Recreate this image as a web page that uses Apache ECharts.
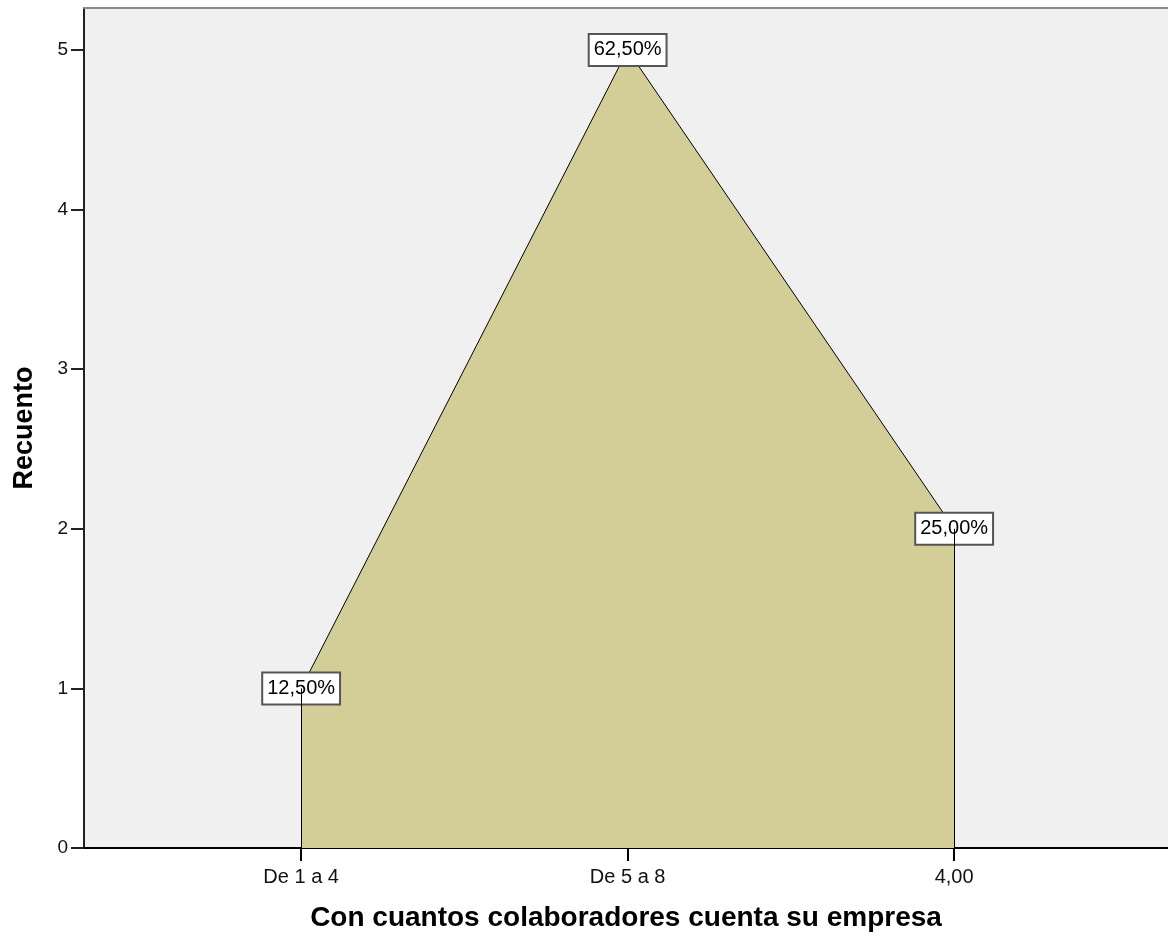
<!DOCTYPE html>
<html>
<head>
<meta charset="utf-8">
<script src="https://cdn.jsdelivr.net/npm/echarts@6/dist/echarts.min.js"></script>
<style>
  html, body { margin: 0; padding: 0; background: #ffffff; }
  #chart { width: 1168px; height: 938px; }
</style>
</head>
<body>
<div id="chart"></div>
<script>
// Categories of company size and the count of respondents in each
const categories = ['De 1 a 4', 'De 5 a 8', '4,00'];
const counts = [1, 5, 2];
const yTicks = [0, 1, 2, 3, 4, 5];

const total = counts.reduce((a, b) => a + b, 0);
const fmtPct = v => (v / total * 100).toFixed(2).replace('.', ',') + '%';
const idx = categories.map((_, i) => i);

const FONT = '"Liberation Sans", Arial, sans-serif';

const chart = echarts.init(document.getElementById('chart'), null, { renderer: 'canvas' });

chart.setOption({
  animation: false,
  backgroundColor: '#ffffff',
  grid: {
    left: 84, right: 0, top: 8, bottom: 90,
    show: true, backgroundColor: '#f0f0f0', borderWidth: 0
  },
  xAxis: [{
    type: 'value',
    min: -0.665, max: 2.655,
    splitLine: { show: false },
    axisLine: { show: true, onZero: false, lineStyle: { color: '#000', width: 2 } },
    axisTick: { show: true, customValues: idx, length: 13, lineStyle: { color: '#000', width: 2 } },
    axisLabel: {
      customValues: idx, margin: 19,
      formatter: v => categories[Math.round(v)],
      fontFamily: FONT, fontSize: 20, color: '#111'
    },
    name: 'Con cuantos colaboradores cuenta su empresa',
    nameLocation: 'middle', nameGap: 56,
    nameTextStyle: { fontFamily: FONT, fontSize: 28, fontWeight: 'bold', color: '#000' }
  }, {
    type: 'value', position: 'top',
    min: -0.665, max: 2.655,
    splitLine: { show: false },
    axisLine: { show: true, onZero: false, lineStyle: { color: '#8a8a8a', width: 2 } },
    axisTick: { show: false }, axisLabel: { show: false }
  }],
  yAxis: {
    type: 'value',
    min: 0, max: 5.263,
    interval: 1,
    splitLine: { show: false },
    axisLine: { show: true, onZero: false, lineStyle: { color: '#222', width: 2 } },
    axisTick: { show: true, customValues: yTicks, length: 13, lineStyle: { color: '#222', width: 2 } },
    axisLabel: {
      customValues: yTicks, margin: 16,
      fontFamily: FONT, fontSize: 19, color: '#111'
    },
    name: 'Recuento',
    nameLocation: 'middle', nameGap: 46,
    nameTextStyle: { fontFamily: FONT, fontSize: 27, fontWeight: 'bold', color: '#000' }
  },
  series: [{
    type: 'line',
    data: counts.map((c, i) => [i, c]),
    symbol: 'rect', symbolSize: 2, showSymbol: true,
    lineStyle: { color: '#000', width: 1 },
    itemStyle: { color: 'rgba(0,0,0,0)' },
    areaStyle: { color: '#d3ce98', opacity: 1 },
    label: {
      show: true, position: 'inside',
      formatter: p => fmtPct(p.data[1]),
      fontFamily: FONT, fontSize: 20, color: '#000',
      backgroundColor: '#fff', borderColor: '#555', borderWidth: 2,
      padding: [6, 4, 4, 4]
    },
    labelLayout: { hideOverlap: false },
    markLine: {
      silent: true, symbol: 'none',
      label: { show: false },
      lineStyle: { color: '#000', width: 1, type: 'solid' },
      data: [
        [{ coord: [0, 0] }, { coord: [0, counts[0]] }],
        [{ coord: [counts.length - 1, 0] }, { coord: [counts.length - 1, counts[counts.length - 1]] }]
      ]
    },
    z: 3
  }]
});
</script>
</body>
</html>
